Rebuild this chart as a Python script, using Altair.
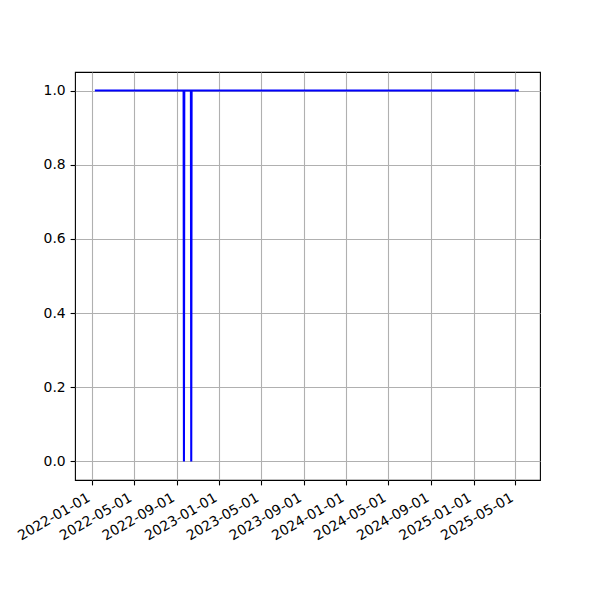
import altair as alt
import pandas as pd

dates = [
    "2022-01-09", "2022-09-21", "2022-09-22", "2022-09-23",
    "2022-10-12", "2022-10-13", "2022-10-14", "2025-05-11",
]
values = [1.0, 1.0, 0.0, 1.0, 1.0, 0.0, 1.0, 1.0]

tick_dates = [
    "2022-01-01", "2022-05-01", "2022-09-01", "2023-01-01", "2023-05-01",
    "2023-09-01", "2024-01-01", "2024-05-01", "2024-09-01", "2025-01-01",
    "2025-05-01",
]
y_ticks = [0.0, 0.2, 0.4, 0.6, 0.8, 1.0]

df = pd.DataFrame({"date": dates, "value": values})


def dt(s):
    y, m, d = (int(p) for p in s.split("-"))
    return alt.DateTime(year=y, month=m, date=d, utc=True)


x_domain = [dt("2021-11-13"), dt("2025-07-11")]

font = "DejaVu Sans"
fs = 13.9

chart = (
    alt.Chart(df)
    .mark_line(color="#0000ff", strokeWidth=2.08)
    .encode(
        x=alt.X(
            "date:T",
            scale=alt.Scale(type="utc", domain=x_domain, nice=False),
            axis=alt.Axis(
                title=None,
                values=[dt(t) for t in tick_dates],
                format="%Y-%m-%d",
                labelAngle=330,
                labelAlign="right",
                labelBaseline="top",
                labelPadding=5.5,
                labelOffset=-7,
                grid=True,
                gridColor="#b0b0b0",
                gridWidth=1.1,
                tickColor="black",
                tickSize=4.9,
                tickWidth=1.1,
                domain=False,
                labelFont=font,
                labelFontSize=fs,
                labelColor="black",
                labelOverlap=False,
                labelFlush=False,
            ),
        ),
        y=alt.Y(
            "value:Q",
            scale=alt.Scale(domain=[-0.05, 1.05], nice=False, zero=False),
            axis=alt.Axis(
                title=None,
                values=y_ticks,
                format=".1f",
                grid=True,
                gridColor="#b0b0b0",
                gridWidth=1.1,
                tickColor="black",
                tickSize=4.9,
                tickWidth=1.1,
                domain=False,
                labelFont=font,
                labelFontSize=fs,
                labelColor="black",
                labelPadding=4.9,
            ),
        ),
    )
    .properties(
        width=465,
        height=408,
        padding={"left": 67, "top": 64, "right": 40, "bottom": 110},
        autosize=alt.AutoSizeParams(type="none"),
    )
    .configure_view(stroke="black", strokeWidth=1.1)
)

chart.save("out.html", embed_options={"renderer": "svg", "actions": False})
